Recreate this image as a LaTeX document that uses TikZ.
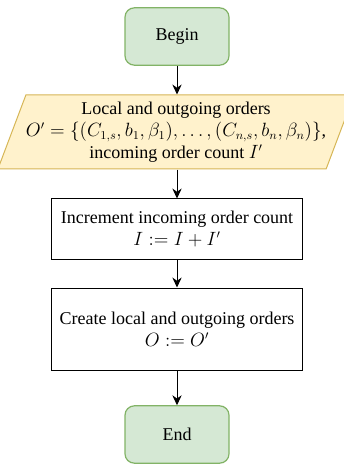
\documentclass[tikz,border=0pt]{standalone}
\usepackage{fontspec}
\setmainfont{Liberation Serif}
\usepackage{amsmath}
\usepackage{tikz}
\usepackage{xcolor}
\usetikzlibrary{arrows.meta,positioning,shapes.geometric}
\definecolor{flgreen}{HTML}{D5E8D4}
\definecolor{flgreenline}{HTML}{82B366}
\definecolor{flyellow}{HTML}{FFF2CC}
\definecolor{flyellowline}{HTML}{D6B656}
\tikzset{
  termBox/.style={draw=flgreenline, fill=flgreen, line width=0.9pt, rounded corners=7pt, minimum width=78pt, minimum height=43pt, align=center},
  ioBox/.style={trapezium, trapezium left angle=68, trapezium right angle=112, trapezium stretches=true, draw=flyellowline, fill=flyellow, line width=0.75pt, minimum width=252pt, minimum height=55.5pt, align=center, inner xsep=0pt},
  procBox/.style={draw=black, line width=0.75pt, fill=white, minimum width=188pt, align=center},
  flowArrow/.style={-{Stealth[length=7.5pt, width=7pt, inset=2.5pt]}, line width=0.75pt}
}

\begin{document}
\begin{tikzpicture}[x=0.75pt, y=-0.75pt, font=\fontsize{13.5}{16.5}\selectfont]
  \useasboundingbox (0,0) rectangle (343,466);
  \node[termBox] (begin) at (177,36.5) {Begin};
  \node[ioBox] (orders) at (176,132) {Local and outgoing orders\\
    $O' = \{(C_{1,s}, b_1, \beta_1), \ldots, (C_{n,s}, b_n, \beta_n)\}$,\\
    incoming order count $I'$};
  \node[procBox, minimum height=45pt] (incr) at (177,229) {Increment incoming order count\\$I := I + I'$};
  \node[procBox, minimum height=61.5pt] (create) at (177,329) {Create local and outgoing orders\\$O := O'$};
  \node[termBox] (finish) at (177,434.5) {End};
  \draw[flowArrow] (begin) -- (orders.north -| begin);
  \draw[flowArrow] (orders.south -| incr) -- (incr);
  \draw[flowArrow] (incr) -- (create);
  \draw[flowArrow] (create) -- (finish);
\end{tikzpicture}
\end{document}
